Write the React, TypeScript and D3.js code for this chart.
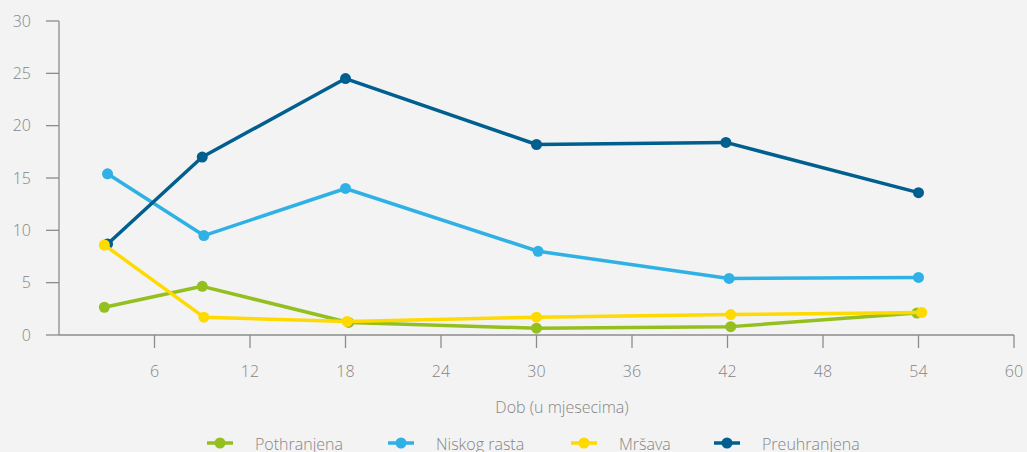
import React from "react";
import * as d3 from "d3";

const xTicks = [6, 12, 18, 24, 30, 36, 42, 48, 54, 60];
const yTicks = [0, 5, 10, 15, 20, 25, 30];

const seriesNames = ["Pothranjena", "Niskog rasta", "Mršava", "Preuhranjena"];
const seriesColors = ["#93c01f", "#2fb1e5", "#ffda00", "#005f8e"];

const monthsPothranjena = [2.85, 9, 18.2, 30, 42.2, 53.9];
const monthsNiskog = [3.05, 9.1, 18, 30.1, 42.1, 54];
const monthsMrsava = [2.85, 9.1, 18.1, 30, 42.2, 54.2];
const monthsPreuhranjena = [3.05, 9, 18, 30, 41.9, 54];

const valuesPothranjena = [2.65, 4.65, 1.2, 0.65, 0.8, 2.1];
const valuesNiskog = [15.4, 9.5, 14.0, 8.0, 5.4, 5.5];
const valuesMrsava = [8.6, 1.7, 1.3, 1.7, 1.95, 2.15];
const valuesPreuhranjena = [8.7, 17.0, 24.5, 18.2, 18.4, 13.6];

const W = 1027;
const H = 452;
const left = 59;
const right = 1014;
const top = 21;
const bottom = 335;
const axisColor = "#8c8c8c";
const textColor = "#858585";
const font = "'Open Sans', sans-serif";
const fs = 16;

export default function App() {
  const x = d3.scaleLinear().domain([0, 60]).range([left, right]);
  const y = d3.scaleLinear().domain([0, 30]).range([bottom, top]);
  const line = d3
    .line<[number, number]>()
    .x((d) => x(d[0]))
    .y((d) => y(d[1]));

  const series = [
    { name: seriesNames[0], color: seriesColors[0], xs: monthsPothranjena, ys: valuesPothranjena },
    { name: seriesNames[1], color: seriesColors[1], xs: monthsNiskog, ys: valuesNiskog },
    { name: seriesNames[3], color: seriesColors[3], xs: monthsPreuhranjena, ys: valuesPreuhranjena },
    { name: seriesNames[2], color: seriesColors[2], xs: monthsMrsava, ys: valuesMrsava },
  ];

  const legendX = [220, 401, 584, 727];
  const legendY = 443;

  return (
    <svg
      width={W}
      height={H}
      style={{ position: "absolute", left: 0, top: 0, background: "#f3f3f3" }}
    >
      <rect x={0} y={0} width={W} height={H} fill="#f3f3f3" />
      {/* y axis */}
      <line x1={left} x2={left} y1={top} y2={bottom} stroke={axisColor} strokeWidth={1.3} />
      {yTicks.map((t) => (
        <g key={"y" + t}>
          <line x1={46} x2={left} y1={y(t)} y2={y(t)} stroke={axisColor} strokeWidth={1.3} />
          <text
            x={31}
            y={y(t)}
            dy="0.35em"
            textAnchor="end"
            fontFamily={font}
            fontWeight={300}
            fontSize={fs}
            fill={textColor}
          >
            {t}
          </text>
        </g>
      ))}
      {/* x axis */}
      <line x1={left} x2={right} y1={bottom} y2={bottom} stroke={axisColor} strokeWidth={1.3} />
      {xTicks.map((t) => (
        <g key={"x" + t}>
          <line x1={x(t)} x2={x(t)} y1={bottom} y2={348} stroke={axisColor} strokeWidth={1.3} />
          <text
            x={x(t)}
            y={371}
            dy="0.35em"
            textAnchor="middle"
            fontFamily={font}
            fontWeight={300}
            fontSize={fs}
            fill={textColor}
          >
            {t}
          </text>
        </g>
      ))}
      <text
        x={562}
        y={407}
        dy="0.35em"
        textAnchor="middle"
        fontFamily={font}
        fontWeight={300}
        fontSize={fs}
        fill={textColor}
      >
        Dob (u mjesecima)
      </text>
      {/* series */}
      {series.map((s) => {
        const pts: [number, number][] = s.xs.map((m, i) => [m, s.ys[i]]);
        return (
          <g key={s.name}>
            <path d={line(pts) || ""} fill="none" stroke={s.color} strokeWidth={3.5} strokeLinejoin="round" />
            {pts.map((p, i) => (
              <circle key={i} cx={x(p[0])} cy={y(p[1])} r={5.5} fill={s.color} />
            ))}
          </g>
        );
      })}
      {/* legend */}
      {seriesNames.map((n, i) => (
        <g key={"leg" + n}>
          <line
            x1={legendX[i] - 13}
            x2={legendX[i] + 13}
            y1={legendY}
            y2={legendY}
            stroke={seriesColors[i]}
            strokeWidth={3.5}
          />
          <circle cx={legendX[i]} cy={legendY} r={5.5} fill={seriesColors[i]} />
          <text
            x={legendX[i] + 35}
            y={legendY + 1}
            dy="0.35em"
            fontFamily={font}
            fontWeight={300}
            fontSize={fs}
            fill={textColor}
          >
            {n}
          </text>
        </g>
      ))}
    </svg>
  );
}
